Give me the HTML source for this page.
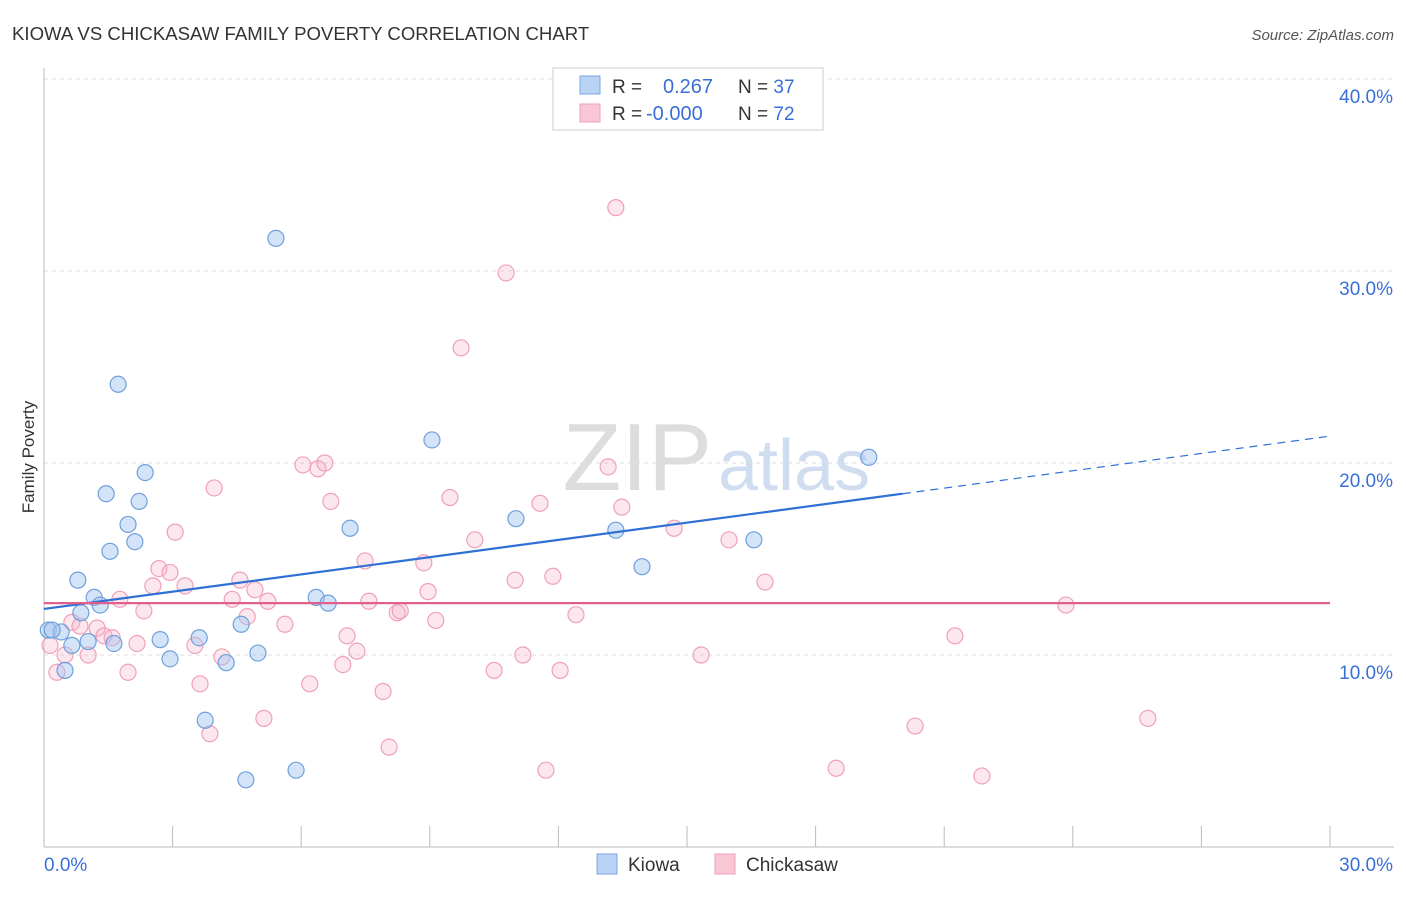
<!DOCTYPE html>
<html><head><meta charset="utf-8"><style>
body{margin:0;background:#fff;font-family:"Liberation Sans",sans-serif;}
svg text{font-family:"Liberation Sans",sans-serif;}
</style></head><body>
<svg id="chart" width="1406" height="892" xmlns="http://www.w3.org/2000/svg">
<text x="12" y="40" font-size="18.6" fill="#333">KIOWA VS CHICKASAW FAMILY POVERTY CORRELATION CHART</text>
<text x="1394" y="40" font-size="15" fill="#555" text-anchor="end" font-style="italic">Source: ZipAtlas.com</text>
<text x="712" y="490" font-size="96" text-anchor="end" fill="#ddd" font-family="Liberation Serif">ZIP</text>
<text x="718" y="490" font-size="72" fill="#d0ddf0">atlas</text>
<text transform="translate(34,457) rotate(-90)" font-size="17" fill="#333" text-anchor="middle">Family Poverty</text>
<g id="grid"></g><g id="axes"></g><g id="pts"></g><g id="trends"></g>
<g>
<rect x="553" y="68" width="270" height="62" fill="#fff" stroke="#ccc"/>
<rect x="580" y="76" width="20" height="18" fill="#b9d3f5" stroke="#7aa6e0"/>
<rect x="580" y="104" width="20" height="18" fill="#f9c6d6" stroke="#f0a0b8"/>
<text x="612" y="93" font-size="19" fill="#333">R =</text>
<text x="663" y="93" font-size="20" fill="#3a6fd8">0.267</text>
<text x="738" y="93" font-size="19" fill="#333">N = <tspan fill="#3a6fd8">37</tspan></text>
<text x="612" y="120" font-size="19" fill="#333">R =</text>
<text x="646" y="120" font-size="20" fill="#3a6fd8">-0.000</text>
<text x="738" y="120" font-size="19" fill="#333">N = <tspan fill="#3a6fd8">72</tspan></text>
</g>
<g>
<rect x="597" y="854" width="20" height="20" fill="#b9d3f5" stroke="#7aa6e0"/>
<text x="628" y="871" font-size="19" fill="#333">Kiowa</text>
<rect x="715" y="854" width="20" height="20" fill="#f9c6d6" stroke="#f0a0b8"/>
<text x="746" y="871" font-size="19" fill="#333">Chickasaw</text>
</g>
</svg>
<script>
const yTicks=[10,20,30,40];
const yTickLabels=["10.0%","20.0%","30.0%","40.0%"];
const xTicks=[0,3,6,9,12,15,18,21,24,27,30];
const kiowaX=[0.1,0.4,0.19,0.49,0.65,0.79,0.86,1.03,1.17,1.31,1.45,1.54,1.63,1.73,1.96,2.12,2.22,2.36,2.71,2.94,3.62,3.76,4.25,4.6,4.71,4.99,5.41,5.88,6.35,6.63,7.14,9.05,11.01,13.34,13.95,16.56,19.24];
const kiowaY=[11.3,11.2,11.3,9.2,10.5,13.9,12.2,10.7,13.0,12.6,18.4,15.4,10.6,24.1,16.8,15.9,18.0,19.5,10.8,9.8,10.9,6.6,9.6,11.6,3.5,10.1,31.7,4.0,13.0,12.7,16.6,21.2,17.1,16.5,14.6,16.0,20.3];
const chickX=[0.14,0.3,0.49,0.65,0.84,1.03,1.24,1.4,1.59,1.77,1.96,2.17,2.33,2.54,2.68,2.94,3.06,3.29,3.52,3.64,3.87,3.97,4.15,4.39,4.57,4.74,4.92,5.13,5.22,5.62,6.04,6.2,6.39,6.55,6.69,6.97,7.07,7.3,7.49,7.58,7.91,8.05,8.24,8.31,8.86,8.96,9.14,9.47,9.73,10.05,10.5,10.78,10.99,11.17,11.57,11.71,11.87,12.04,12.41,13.16,13.34,13.48,14.7,15.33,15.98,16.82,18.48,20.32,21.25,21.88,23.84,25.75];
const chickY=[10.5,9.1,10.0,11.7,11.5,10.0,11.4,11.0,10.9,12.9,9.1,10.6,12.3,13.6,14.5,14.3,16.4,13.6,10.5,8.5,5.9,18.7,9.9,12.9,13.9,12.0,13.4,6.7,12.8,11.6,19.9,8.5,19.7,20.0,18.0,9.5,11.0,10.2,14.9,12.8,8.1,5.2,12.2,12.3,14.8,13.3,11.8,18.2,26.0,16.0,9.2,29.9,13.9,10.0,17.9,4.0,14.1,9.2,12.1,19.8,33.3,17.7,16.6,10.0,16.0,13.8,4.1,6.3,11.0,3.7,12.6,6.7];
const kiowaTrend=[0,12.4,20.03,18.4,30,21.4];
const chickTrend=[0,12.7,30,12.7];
const X0=44,X1=1330,Y0=847,PXY=19.2;
const xs=v=>X0+(X1-X0)*v/30, ys=v=>Y0-v*PXY;
const NS="http://www.w3.org/2000/svg";
function mk(t,a,p){const e=document.createElementNS(NS,t);for(const k in a)e.setAttribute(k,a[k]);document.getElementById(p).appendChild(e);return e;}
yTicks.forEach((t,i)=>{
 const l=mk('line',{x1:X0,x2:1394,y1:ys(t),y2:ys(t),stroke:'#ddd','stroke-dasharray':'4,4'},'grid');
 
 
 const tx=mk('text',{x:1393,y:ys(t)+24,'font-size':19,fill:'#3a6fd8','text-anchor':'end'},'grid');
 tx.textContent=yTickLabels[i];
 
 
});
const ax=mk('line',{x1:X0,x2:X0,y1:68,y2:Y0,stroke:'#bbb'},'axes');


const bx=mk('line',{x1:X0,x2:1394,y1:Y0,y2:Y0,stroke:'#bbb'},'axes');


xTicks.forEach(t=>{const l=mk('line',{x1:xs(t),x2:xs(t),y1:826,y2:Y0,stroke:'#bbb'},'axes');
 
 });
[[0,"0.0%",'start',44],[30,"30.0%",'end',1393]].forEach(d=>{const t=mk('text',{x:d[3],y:871,'font-size':19,fill:'#3a6fd8','text-anchor':d[2]},'axes');t.textContent=d[1];
 
 });
chickX.forEach((v,i)=>{const c=mk('circle',{cx:xs(v),cy:ys(chickY[i]),r:8,fill:'rgba(246,175,200,0.3)',stroke:'#f0a0b8','stroke-width':1.2},'pts');
 
 });
kiowaX.forEach((v,i)=>{const c=mk('circle',{cx:xs(v),cy:ys(kiowaY[i]),r:8,fill:'rgba(160,195,240,0.45)',stroke:'#6f9fdc','stroke-width':1.2},'pts');
 
 });
const k=kiowaTrend;
const l1=mk('line',{x1:xs(k[0]),y1:ys(k[1]),x2:xs(k[2]),y2:ys(k[3]),stroke:'#2f6fd6','stroke-width':2.2},'trends');


const l2=mk('line',{x1:xs(k[2]),y1:ys(k[3]),x2:xs(k[4]),y2:ys(k[5]),stroke:'#2f6fd6','stroke-width':1.2,'stroke-dasharray':'8,6'},'trends');


const c=chickTrend;
const l3=mk('line',{x1:xs(c[0]),y1:ys(c[1]),x2:xs(c[2]),y2:ys(c[3]),stroke:'#e0608d','stroke-width':2.2},'trends');


</script>
</body></html>
